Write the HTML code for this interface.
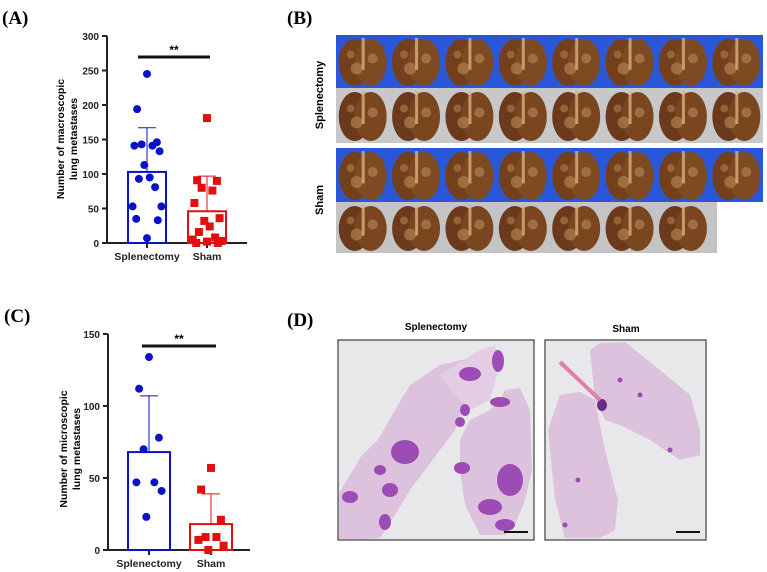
<!DOCTYPE html>
<html><head><meta charset="utf-8"><style>
html,body{margin:0;padding:0;background:#fff;}
svg{display:block;font-family:"Liberation Sans",Arial,sans-serif;}
.pl{font-family:"Liberation Serif",serif;font-weight:bold;font-size:19px;}
</style></head><body>
<svg id="fig" width="767" height="572" viewBox="0 0 767 572">
<text class="pl" x="2" y="24">(A)</text>
<text class="pl" x="287" y="24">(B)</text>
<text class="pl" x="4" y="322">(C)</text>
<text class="pl" x="287" y="326">(D)</text>
<g id="chartA"></g>
<g id="chartC"></g>
<g id="photos"></g>
<text x="0" y="0" transform="translate(323,95) rotate(-90)" text-anchor="middle" font-size="11" font-weight="bold">Splenectomy</text>
<text x="0" y="0" transform="translate(323,200) rotate(-90)" text-anchor="middle" font-size="11" font-weight="bold">Sham</text>
<text x="436" y="330" text-anchor="middle" font-size="10" font-weight="bold">Splenectomy</text>
<text x="626" y="332" text-anchor="middle" font-size="10" font-weight="bold">Sham</text>
<g id="histo"></g>
</svg>
<script>
// Panel A data
const aCategories=["Splenectomy","Sham"];
const aSplen=[245,194,146,143,141,141,133,113,95,93,81,53,53,35,33,7];
const aSham=[181,91,90,80,76,58,36,32,24,16,8,5,3,0,0,2];
const aMeans=[103,46];
const aSD=[167,97];
const aTicks=[0,50,100,150,200,250,300];
// Panel C data
const cCategories=["Splenectomy","Sham"];
const cSplen=[134,112,78,70,47,47,41,23];
const cSham=[57,42,21,9,9,7,3,0];
const cMeans=[68,18];
const cSD=[107,39];
const cTicks=[0,50,100,150];

const NS="http://www.w3.org/2000/svg";
function mk(p,tag,at){const e=document.createElementNS(NS,tag);for(const k in at)e.setAttribute(k,at[k]);p.appendChild(e);return e;}

function chart(g,cfg){
  const y=v=>cfg.y0-(v-0)/cfg.max*(cfg.y0-cfg.yTop);
  const blue="#0a12c8",red="#e01010";
  const ax=mk(g,'line',{x1:cfg.ax,y1:cfg.yTop,x2:cfg.ax,y2:cfg.y0,stroke:'#222','stroke-width':2});
  
  const xa=mk(g,'line',{x1:cfg.ax,y1:cfg.y0,x2:cfg.axEnd,y2:cfg.y0,stroke:'#222','stroke-width':2});
  
  cfg.ticks.forEach(t=>{
    const l=mk(g,'line',{x1:cfg.ax-5,y1:y(t),x2:cfg.ax,y2:y(t),stroke:'#222','stroke-width':2});
    
    const tx=mk(g,'text',{x:cfg.ax-8,y:y(t)+4,'text-anchor':'end','font-size':10,'font-weight':'bold',fill:'#222'});
    tx.textContent=t;
  });
  const groups=[cfg.s1,cfg.s2];
  cfg.cats.forEach((c,i)=>{
    const cx=cfg.cx[i],col=i?red:blue,hw=cfg.hw;
    const b=mk(g,'rect',{x:cx-hw,y:y(cfg.means[i]),width:hw*2,height:cfg.y0-y(cfg.means[i]),fill:'none',stroke:col,'stroke-width':2});
    
    const e=mk(g,'line',{x1:cx,y1:y(cfg.means[i]),x2:cx,y2:y(cfg.sd[i]),stroke:col,'stroke-width':1});
    
    const e2=mk(g,'line',{x1:cx-9,y1:y(cfg.sd[i]),x2:cx+9,y2:y(cfg.sd[i]),stroke:col,'stroke-width':1});
    
    const tk=mk(g,'line',{x1:cx,y1:cfg.y0,x2:cx,y2:cfg.y0+5,stroke:'#222','stroke-width':2});
    
    const lb=mk(g,'text',{x:cx,y:cfg.y0+17,'text-anchor':'middle','font-size':10.5,'font-weight':'bold',fill:'#222'});
    lb.textContent=c;
    const jit=[0,-11,11,-6,6,-14,14,-3,3,-9,9,-16,16,-12,12,0];
    groups[i].forEach((v,k)=>{
      const px=cx+jit[k%jit.length]*0.9,py=y(v);
      let m;
      if(i==0){m=mk(g,'circle',{cx:px,cy:py,r:4,fill:blue});}
      else{m=mk(g,'rect',{x:px-4,y:py-4,width:8,height:8,fill:red});}
      
    });
  });
  const s=mk(g,'line',{x1:cfg.sig[0],y1:cfg.sig[2],x2:cfg.sig[1],y2:cfg.sig[2],stroke:'#111','stroke-width':3});
  
  const st=mk(g,'text',{x:(cfg.sig[0]+cfg.sig[1])/2,y:cfg.sig[2]-3,'text-anchor':'middle','font-size':12,'font-weight':'bold'});
  st.textContent='**';
  const yt=mk(g,'text',{transform:`translate(${cfg.tx},${cfg.ty}) rotate(-90)`,'text-anchor':'middle','font-size':10.5,'font-weight':'bold'});
  
  const t1=mk(yt,'tspan',{x:0,y:0});t1.textContent=cfg.title[0];
  const t2=mk(yt,'tspan',{x:0,y:13});t2.textContent=cfg.title[1];
}
chart(document.getElementById('chartA'),{ax:107,axEnd:247,y0:243,yTop:36,max:300,ticks:aTicks,cats:aCategories,cx:[147,207],hw:19,means:aMeans,sd:aSD,s1:aSplen,s2:aSham,sig:[138,210,57],tx:64,ty:139,title:["Number of macroscopic","lung metastases"]});
chart(document.getElementById('chartC'),{ax:108,axEnd:250,y0:550,yTop:334,max:150,ticks:cTicks,cats:cCategories,cx:[149,211],hw:21,means:cMeans,sd:cSD,s1:cSplen,s2:cSham,sig:[142,216,346],tx:67,ty:449,title:["Number of microscopic","lung metastases"]});

// photos panel B
const P=document.getElementById('photos');
const rows=[[35,88,'#2a56d8',8,763],[88,143,'#c8c8c8',8,763],[148,202,'#2a56d8',8,763],[202,253,'#c4c4c4',7,717]];
rows.forEach((r,ri)=>{
  const bg=mk(P,'rect',{x:336,y:r[0],width:r[4]-336,height:r[1]-r[0],fill:r[2]});
  
  const w=(763-336)/8;
  for(let k=0;k<r[3];k++){
    const cx=336+w*(k+0.5),cy=(r[0]+r[1])/2+1;
    const l=mk(P,'ellipse',{cx:cx-8,cy:cy,rx:16,ry:(r[1]-r[0])/2-3,fill:ri%2?'#6b3a1c':'#74401c'});
    
    mk(P,'ellipse',{cx:cx+8,cy:cy,rx:16,ry:(r[1]-r[0])/2-3,fill:ri%2?'#7a4620':'#7d4a22'});
    mk(P,'circle',{cx:cx-6,cy:cy+6,r:6,fill:'#b98a58',opacity:0.6});
    mk(P,'circle',{cx:cx+10,cy:cy-4,r:5,fill:'#b98a58',opacity:0.6});
    mk(P,'circle',{cx:cx-12,cy:cy-8,r:4,fill:'#b98a58',opacity:0.5});
    mk(P,'rect',{x:cx-1,y:r[0]+3,width:3,height:(r[1]-r[0])*0.6,fill:'#d8b080',opacity:0.8});
  }
});

// histology panel D
const H=document.getElementById('histo');
[[338,340,196,200],[545,340,161,200]].forEach((b,i)=>{
  const r=mk(H,'rect',{x:b[0],y:b[1],width:b[2],height:b[3],fill:'#e8e8ea',stroke:'#555','stroke-width':1.2});
  
});
const tis='#dcc2dc';
mk(H,'polygon',{points:'339,493 362,455 378,440 395,410 410,385 440,365 470,358 472,380 455,430 440,450 425,470 410,490 395,515 380,538 355,540 339,540',fill:tis});
mk(H,'polygon',{points:'460,440 470,420 490,410 500,400 505,390 520,388 530,410 532,470 525,500 515,525 505,535 480,535 465,505 460,470',fill:tis});
mk(H,'polygon',{points:'440,375 480,350 495,345 500,365 490,400 470,410 455,395',fill:'#e4cce4'});
[[405,452,14,12],[350,497,8,6],[380,470,6,5],[390,490,8,7],[385,522,6,8],[462,468,8,6],[490,507,12,8],[510,480,13,16],[505,525,10,6],[460,422,5,5],[500,402,10,5],[470,374,11,7],[498,361,6,11],[465,410,5,6]].forEach(d=>{
  const e=mk(H,'ellipse',{cx:d[0],cy:d[1],rx:d[2],ry:d[3],fill:'#9c4cb4'});
  
});
mk(H,'polygon',{points:'548,430 560,395 580,392 595,400 605,450 618,500 615,530 600,538 565,538 555,500',fill:tis});
mk(H,'polygon',{points:'590,350 600,343 625,342 660,370 690,395 700,430 700,455 680,460 650,440 620,425 605,420 595,400',fill:tis});
mk(H,'polygon',{points:'600,418 640,420 680,430',fill:'none'});
mk(H,'ellipse',{cx:602,cy:405,rx:5,ry:6,fill:'#6a2a8a'});
mk(H,'path',{d:'M560 362 L600 400',stroke:'#e080a8','stroke-width':4,fill:'none'});
[[578,480],[620,380],[670,450],[640,395],[565,525]].forEach(p=>mk(H,'circle',{cx:p[0],cy:p[1],r:2.5,fill:'#9c4cb4'}));
[[338,340,196,200],[545,340,161,200]].forEach(b=>{
  const fr=mk(H,'rect',{x:b[0],y:b[1],width:b[2],height:b[3],fill:'none',stroke:'#555','stroke-width':1.2});
  
  const sb=mk(H,'line',{x1:b[0]+b[2]-30,y1:b[1]+192,x2:b[0]+b[2]-6,y2:b[1]+192,stroke:'#111','stroke-width':2});
  
});
</script>
</body></html>
